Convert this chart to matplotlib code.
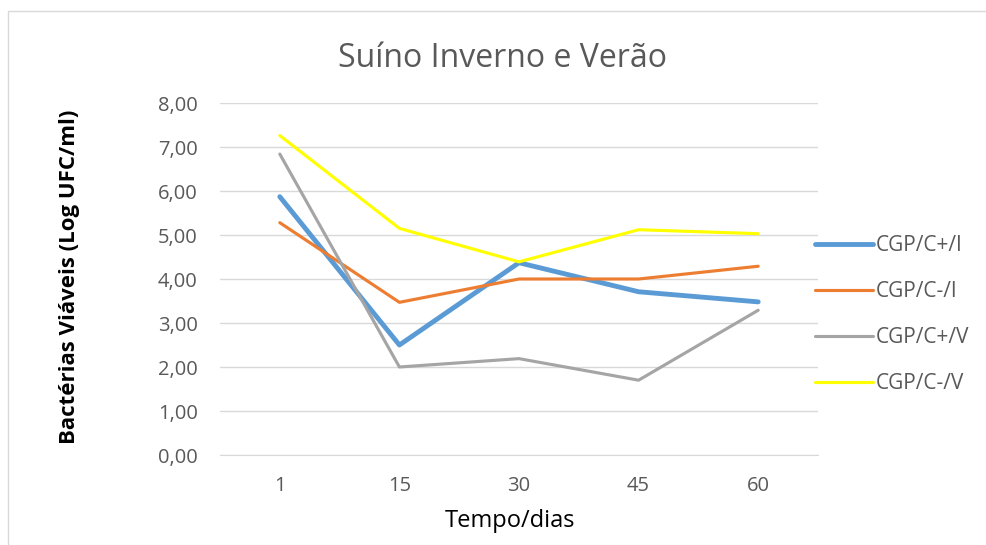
import numpy as np
import matplotlib
matplotlib.use("Agg")
import matplotlib.pyplot as plt
from matplotlib.patches import Rectangle

# data
dias = ["1", "15", "30", "45", "60"]
cgp_cmais_i = [5.87, 2.50, 4.37, 3.71, 3.48]
cgp_cmenos_i = [5.28, 3.47, 4.00, 4.00, 4.29]
cgp_cmais_v = [6.84, 2.00, 2.19, 1.70, 3.29]
cgp_cmenos_v = [7.26, 5.15, 4.39, 5.12, 5.03]
series_names = ["CGP/C+/I", "CGP/C-/I", "CGP/C+/V", "CGP/C-/V"]

plt.rcParams["font.family"] = ["Open Sans", "DejaVu Sans"]
grey_txt = "#595959"
W, H = 987, 545

fig = plt.figure(figsize=(W / 100, H / 100), dpi=100)
ax = fig.add_axes([220 / W, 1 - 455 / H, 598 / W, 352 / H])

# light frame around the chart, like the Excel chart area
fig.patches.append(Rectangle((8 / W, -0.01), 1.0, 1 - 10.5 / H + 0.01, transform=fig.transFigure,
                             fill=False, edgecolor="#d9d9d9", linewidth=1.0))

x = np.arange(len(dias))
ax.plot(x, cgp_cmais_i, color="#5B9BD5", lw=3.5, label=series_names[0], solid_capstyle="round")
ax.plot(x, cgp_cmenos_i, color="#ED7D31", lw=2.25, label=series_names[1], solid_capstyle="round")
ax.plot(x, cgp_cmais_v, color="#A5A5A5", lw=2.25, label=series_names[2], solid_capstyle="round")
ax.plot(x, cgp_cmenos_v, color="#FFFF00", lw=2.25, label=series_names[3], solid_capstyle="round")

ax.set_xlim(-0.5, len(dias) - 0.5)
ax.set_ylim(0, 8)
ax.set_xticks(x)
ax.set_xticklabels(dias)
ax.set_yticks(np.arange(0, 9, 1))
ax.set_yticklabels([f"{v:.2f}".replace(".", ",") for v in range(9)])
ax.tick_params(length=0, labelsize=14.5, colors=grey_txt)
ax.tick_params(axis="y", pad=16)
ax.tick_params(axis="x", pad=15)
ax.grid(axis="y", color="#d9d9d9", lw=1)
ax.set_axisbelow(True)
for s in ["top", "right", "left"]:
    ax.spines[s].set_visible(False)
ax.spines["bottom"].set_color("#d9d9d9")

fig.text(503 / W, 1 - 67 / H, "Suíno Inverno e Verão", fontsize=23, color=grey_txt,
         ha="center", va="baseline")
fig.text(510 / W, 1 - 521 / H, "Tempo/dias", fontsize=17, color="black",
         ha="center", va="center")
fig.text(70 / W, 1 - 277 / H, "Bactérias Viáveis (Log UFC/ml)", fontsize=16,
         fontweight="bold", color="black", rotation=90, ha="center", va="center")

leg = ax.legend(loc="center left", bbox_to_anchor=(0.963, 0.398), frameon=False,
                fontsize=15, handlelength=2.8, labelspacing=1.2, handletextpad=0.15)
for t in leg.get_texts():
    t.set_color(grey_txt)

fig.savefig("out.png", dpi=100)
